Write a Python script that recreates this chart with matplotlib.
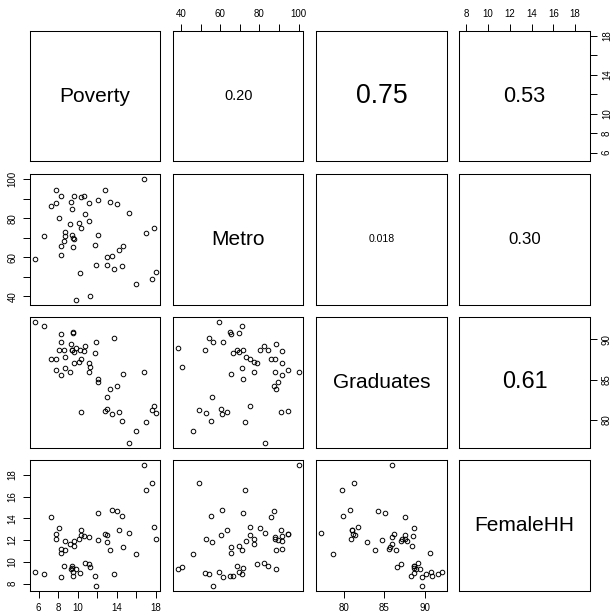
import matplotlib
matplotlib.use("Agg")
import matplotlib.pyplot as plt
import numpy as np

plt.rcParams["font.family"] = ["Liberation Sans", "DejaVu Sans"]

# ---------------- data ----------------
variables = ["Poverty", "Metro", "Graduates", "FemaleHH"]

poverty = [14.6, 8.3, 13.3, 18.0, 12.8, 9.4, 7.8, 8.1, 16.8, 12.1, 12.1,
           5.6, 6.5, 7.3, 7.8, 8.3, 8.3, 8.7, 8.7, 8.6, 9.2, 9.3, 9.6,
           9.4, 9.5, 9.6, 9.5, 10.1, 10.3, 10.6, 10.3, 10.2, 9.8, 10.8,
           11.2, 11.2, 11.3, 11.8, 11.9, 13.0, 13.5, 13.0, 13.7, 14.0,
           14.2, 14.7, 15.3, 16.0, 17.0, 17.6, 17.8]
metro = [55.4, 65.6, 88.2, 52.5, 94.4, 84.5, 87.7, 80.1, 100.0, 89.3, 71.6,
         59.3, 70.9, 86.0, 94.5, 91.6, 61.2, 73.0, 70.8, 68.4, 77.1, 88.2, 91.5,
         71.6, 69.7, 69.5, 65.1, 77.4, 90.8, 91.6, 74.9, 52.0, 38.2, 82.1,
         87.9, 78.8, 40.2, 66.3, 56.1, 60.2, 60.7, 55.8, 54.1, 87.4,
         63.6, 65.5, 82.6, 46.2, 72.6, 48.9, 75.0]
graduates = [79.9, 90.6, 83.8, 80.9, 81.1, 88.7, 87.5, 88.7, 86.0, 84.7, 85.1,
             92.1, 91.6, 87.6, 86.2, 85.6, 89.7, 87.8, 86.4, 88.6, 86.0, 89.4, 87.1,
             88.6, 90.8, 88.4, 90.9, 87.2, 81.0, 88.5, 87.6, 88.7, 88.9, 89.2,
             86.0, 87.0, 86.6, 88.3, 89.7, 81.4, 80.8, 82.8, 90.1, 84.2,
             81.0, 85.7, 77.2, 78.7, 79.8, 81.2, 81.7]
female_hh = [14.2, 10.8, 11.1, 12.1, 12.6, 9.6, 12.1, 13.1, 18.9, 12.0, 14.5,
             9.1, 8.9, 14.1, 12.6, 11.2, 8.6, 11.9, 11.1, 9.6, 11.6, 9.3, 11.9,
             9.4, 9.1, 11.5, 8.7, 12.1, 12.9, 12.4, 12.5, 9.0, 9.3, 9.9,
             12.3, 9.8, 9.5, 8.7, 7.8, 12.5, 14.8, 11.8, 8.9, 14.7,
             12.9, 11.4, 12.7, 10.7, 16.6, 17.3, 13.2]

# correlation labels shown in the upper panels
cor_pairs = [(0, 1), (0, 2), (0, 3), (1, 2), (1, 3), (2, 3)]
cor_text = ["0.20", "0.75", "0.53", "0.018", "0.30", "0.61"]

# axis ticks and their labels
poverty_ticks = [6, 8, 10, 12, 14, 16, 18]
poverty_ticklabels = ["6", "8", "10", "", "14", "", "18"]
metro_ticks = [40, 50, 60, 70, 80, 90, 100]
metro_ticklabels = ["40", "", "60", "", "80", "", "100"]
grad_ticks = [80, 85, 90]
grad_ticklabels = ["80", "85", "90"]
fhh_ticks = [8, 10, 12, 14, 16, 18]
fhh_ticklabels = ["8", "10", "12", "14", "16", "18"]

# ---------------- layout ----------------
data = [np.array(poverty), np.array(metro), np.array(graduates), np.array(female_hh)]
ticks = [poverty_ticks, metro_ticks, grad_ticks, fhh_ticks]
ticklabels = [poverty_ticklabels, metro_ticklabels, grad_ticklabels, fhh_ticklabels]

lims = []
for v in data:
    lo, hi = v.min(), v.max()
    pad = 0.04 * (hi - lo)
    lims.append((lo - pad, hi + pad))

W, H = 614, 616
fig = plt.figure(figsize=(W / 100, H / 100), dpi=100)
fig.patch.set_facecolor("white")

col_left = [30.0, 173.0, 316.3, 459.3]
row_top = [31.0, 174.3, 317.3, 460.3]
pw, ph = 130.4, 130.3

n = len(variables)
cor_map = {p: t for p, t in zip(cor_pairs, cor_text)}

tick_kw = dict(length=4.8, width=0.7, labelsize=7, pad=4, color="black")

for i in range(n):
    for j in range(n):
        ax = fig.add_axes([col_left[j] / W, 1 - (row_top[i] + ph) / H, pw / W, ph / H])
        ax.set_facecolor("white")
        for s in ax.spines.values():
            s.set_linewidth(0.75)
            s.set_color("black")
        ax.set_xlim(lims[j])
        ax.set_ylim(lims[i])
        ax.set_xticks([])
        ax.set_yticks([])

        if i > j:
            ax.plot(data[j], data[i], "o", mfc="none", mec="black", ms=3.3, mew=0.7,
                    linestyle="none")
        elif i == j:
            ax.text(0.5, 0.5, variables[i], transform=ax.transAxes, ha="center",
                    va="center", fontsize=15)
        else:
            txt = cor_map[(i, j)]
            r = abs(float(txt))
            fs = (10.1 + 22.0 * r) * 0.72
            ax.text(0.5, 0.5, txt, transform=ax.transAxes, ha="center",
                    va="center", fontsize=fs)

        # outer axes, alternating sides as in R pairs()
        if i == 0 and j % 2 == 1:
            ax.xaxis.tick_top()
            ax.set_xticks(ticks[j])
            ax.set_xticklabels(ticklabels[j])
            ax.tick_params(axis="x", top=True, bottom=False, labeltop=True,
                           labelbottom=False, **tick_kw)
        if i == n - 1 and j % 2 == 0:
            ax.set_xticks(ticks[j])
            ax.set_xticklabels(ticklabels[j])
            ax.tick_params(axis="x", bottom=True, labelbottom=True, **tick_kw)
        if j == 0 and i % 2 == 1:
            ax.set_yticks(ticks[i])
            ax.set_yticklabels(ticklabels[i], rotation=90, va="center")
            ax.tick_params(axis="y", left=True, labelleft=True, **tick_kw)
        if j == n - 1 and i % 2 == 0:
            ax.yaxis.tick_right()
            ax.set_yticks(ticks[i])
            ax.set_yticklabels(ticklabels[i], rotation=90, va="center")
            ax.tick_params(axis="y", right=True, left=False, labelright=True,
                           labelleft=False, **tick_kw)

fig.savefig("out.png", dpi=100, facecolor="white")
